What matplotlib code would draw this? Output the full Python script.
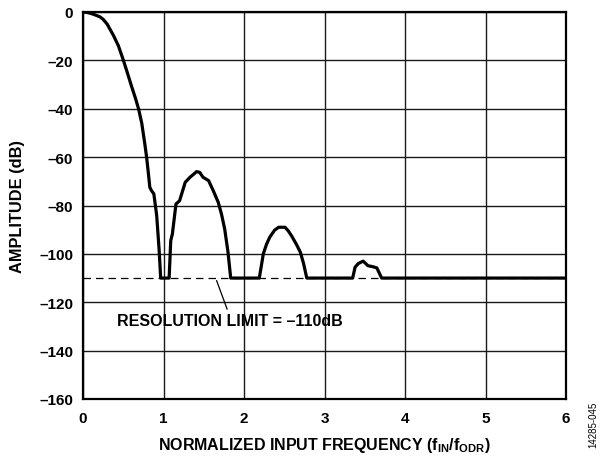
import numpy as np
import matplotlib
matplotlib.use('Agg')
import matplotlib.pyplot as plt

plt.rcParams['font.family'] = ['Liberation Sans', 'DejaVu Sans']
plt.rcParams['font.weight'] = 'bold'
plt.rcParams['mathtext.fontset'] = 'custom'
plt.rcParams['mathtext.rm'] = 'Liberation Sans:bold'
plt.rcParams['mathtext.it'] = 'Liberation Sans:bold'
plt.rcParams['mathtext.bf'] = 'Liberation Sans:bold'

# frequency response (f_IN/f_ODR, dB)
freq = [0.0, 0.05, 0.1, 0.15, 0.21, 0.25, 0.3, 0.38, 0.44, 0.5, 0.55, 0.6,
        0.65, 0.69, 0.73, 0.77, 0.79, 0.81, 0.83, 0.85, 0.88, 0.915, 0.945,
        0.965, 1.07, 1.09, 1.11, 1.155, 1.2, 1.27, 1.33, 1.37, 1.41, 1.45,
        1.49, 1.56, 1.62, 1.68, 1.72, 1.76, 1.80, 1.835, 2.19, 2.24, 2.28,
        2.32, 2.38, 2.43, 2.51, 2.55, 2.59, 2.65, 2.70, 2.74, 2.78, 3.35,
        3.38, 3.42, 3.48, 3.54, 3.6, 3.65, 3.71, 6.0]
amp = [0.0, -0.2, -0.6, -1.2, -2.0, -3.0, -5.0, -9.8, -14.0, -19.8, -25.0,
       -30.4, -35.5, -40.0, -46.0, -55.0, -60.0, -66.0, -72.5, -73.8, -75.2,
       -84.0, -98.0, -110.0, -110.0, -94.5, -91.8, -79.4, -78.0, -70.4, -68.3,
       -67.2, -66.0, -66.3, -68.3, -69.7, -74.0, -78.7, -83.5, -89.7, -99.0,
       -110.0, -110.0, -100.0, -96.0, -93.1, -90.2, -89.0, -89.0, -90.5,
       -92.5, -96.0, -99.3, -104.0, -110.0, -110.0, -105.5, -104.0, -103.0,
       -104.9, -105.3, -105.8, -110.0, -110.0]

res_limit = -110
xticks = [0, 1, 2, 3, 4, 5, 6]
yticks = [0, -20, -40, -60, -80, -100, -120, -140, -160]
ylabels = ['0' if v == 0 else '\u2013' + str(-v) for v in yticks]

fig = plt.figure(figsize=(6, 4.6), dpi=100)
ax = fig.add_axes([83 / 600, 1 - 400 / 460, 483 / 600, 387 / 460])

ax.axhline(res_limit, color='black', lw=0.9, ls=(0, (6, 4)), zorder=2)
ax.plot(freq, amp, color='black', lw=2.3, solid_joinstyle='round', zorder=3)

ax.set_xlim(0, 6)
ax.set_ylim(-160, 0)
ax.set_xticks(xticks)
ax.set_xticklabels([str(v) for v in xticks])
ax.set_yticks(yticks)
ax.set_yticklabels(ylabels)
ax.grid(True, color='#1a1a1a', lw=1.0)
ax.tick_params(length=0, labelsize=11)
ax.tick_params(axis='y', pad=7)
ax.tick_params(axis='x', pad=9)
for s in ax.spines.values():
    s.set_linewidth(1.6)

ax.set_xlabel('NORMALIZED INPUT FREQUENCY (f$_{\\mathrm{IN}}$/f$_{\\mathrm{ODR}}$)',
              fontsize=11.5, fontweight='bold', labelpad=7)
ax.set_ylabel('AMPLITUDE (dB)', fontsize=11.8, fontweight='bold', labelpad=10)

ax.plot([1.66, 1.79], [-111.1, -122.8], color='black', lw=0.9, zorder=3)
ax.text(1.83, -127.6, 'RESOLUTION LIMIT = \u2013110dB', fontsize=11.5,
        fontweight='bold', ha='center', va='center')

fig.text(593.5 / 600, 1 - 425 / 460, '14285-045', rotation=90, fontsize=7,
         fontweight='normal', ha='center', va='center')

fig.savefig('out.png', dpi=100)
